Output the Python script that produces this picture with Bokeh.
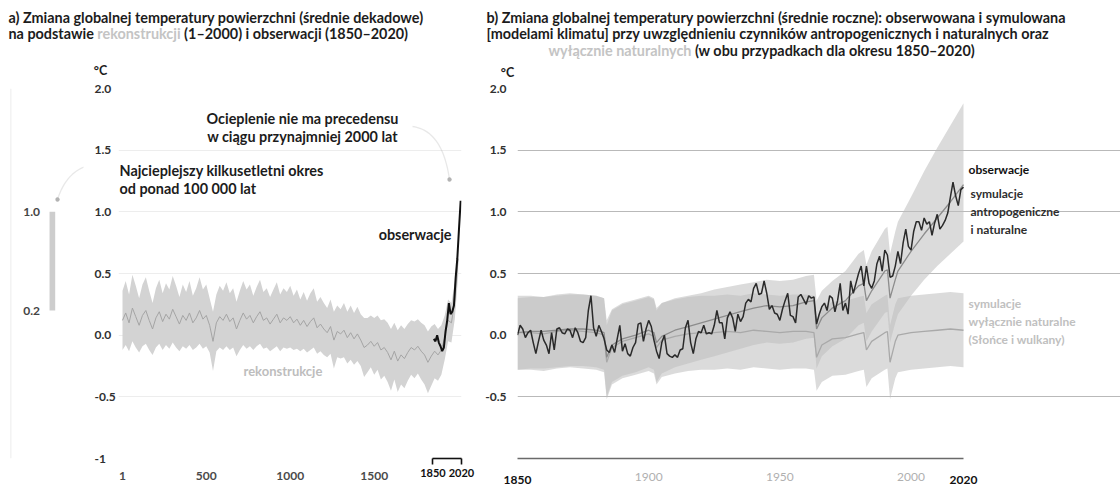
import subprocess
import numpy as np
from bokeh.plotting import figure
from bokeh.layouts import row, column
from bokeh.models import Range1d, FixedTicker, Label, PolyAnnotation, LinearAxis, Grid
from bokeh.embed import file_html
from bokeh.resources import INLINE

FONT = "Lato"

# ---------------- panel a data ----------------
recon_years = [1] + list(range(20, 2001, 20))
recon_mean = [
    0.12, 0.18, 0.10, 0.22, 0.15, 0.08, 0.16, 0.20, 0.12, 0.05,
    0.14, 0.19, 0.11, 0.17, 0.13, 0.21, 0.15, 0.09, 0.16, 0.12,
    0.18, 0.10, 0.14, 0.20, 0.13, 0.16, 0.08, -0.05, 0.10, 0.15,
    0.12, 0.17, 0.11, 0.14, 0.05, 0.12, 0.18, 0.13, 0.16, 0.10,
    0.15, 0.19, 0.12, 0.14, 0.09, 0.13, 0.17, 0.10, 0.14, 0.12,
    0.15, 0.10, 0.13, 0.08, 0.12, 0.07, 0.11, 0.14, 0.06, 0.09,
    0.05, 0.02, 0.07, -0.04, 0.03, 0.01, 0.04, -0.02, 0.02, -0.03,
    0.01, -0.04, -0.10, -0.08, -0.05, -0.09, -0.06, -0.12, -0.10, -0.14,
    -0.20, -0.13, -0.21, -0.16, -0.19, -0.14, -0.10, -0.12, -0.09, -0.13,
    -0.16, -0.22, -0.17, -0.13, -0.16, -0.12, -0.02, 0.12, 0.10, 0.28,
    0.62]
recon_spread = [
    0.24, 0.26, 0.23, 0.27, 0.25, 0.22, 0.25, 0.27, 0.24, 0.21,
    0.24, 0.26, 0.23, 0.25, 0.24, 0.27, 0.25, 0.22, 0.25, 0.23,
    0.26, 0.22, 0.24, 0.27, 0.24, 0.25, 0.22, 0.24, 0.23, 0.25,
    0.24, 0.26, 0.23, 0.24, 0.22, 0.24, 0.26, 0.24, 0.25, 0.22,
    0.24, 0.26, 0.23, 0.24, 0.22, 0.24, 0.26, 0.23, 0.24, 0.23,
    0.25, 0.22, 0.24, 0.21, 0.23, 0.21, 0.23, 0.24, 0.21, 0.22,
    0.21, 0.20, 0.22, 0.23, 0.21, 0.20, 0.22, 0.21, 0.22, 0.21,
    0.22, 0.21, 0.24, 0.22, 0.21, 0.23, 0.22, 0.24, 0.23, 0.24,
    0.25, 0.23, 0.25, 0.24, 0.24, 0.23, 0.22, 0.23, 0.22, 0.23,
    0.24, 0.25, 0.24, 0.22, 0.21, 0.20, 0.18, 0.17, 0.16, 0.15,
    0.14]
obs_dec_years = list(range(1855, 2016, 10))
obs_dec = [-0.03, -0.05, 0.00, -0.06, -0.09, -0.13, -0.10, 0.03, 0.12,
           0.26, 0.17, 0.19, 0.24, 0.46, 0.62, 0.86, 1.09]
a_yticks = [-1, -0.5, 0, 0.5, 1, 1.5, 2]
a_ylabels = ["-1", "-0.5", "0.0", "0.5", "1.0", "1.5", "2.0"]
a_xticks = [1, 500, 1000, 1500]
a_period = [1850, 2020]
bar_range = [0.2, 1.0]
bar_labels = ["0.2", "1.0"]

# ---------------- panel b data ----------------
obs_years = list(range(1850, 2021))
obs_annual = [
    0.00, 0.08, 0.05, -0.02, 0.02, 0.04, -0.06, -0.15, -0.05, 0.04,
    -0.04, -0.08, -0.15, 0.02, -0.12, 0.05, 0.06, 0.02, 0.01, 0.05,
    0.04, -0.02, 0.06, 0.02, -0.05, -0.06, -0.02, 0.20, 0.32, 0.06,
    -0.01, 0.08, 0.03, -0.03, -0.12, -0.14, -0.08, -0.14, -0.03, 0.08,
    -0.13, -0.07, -0.15, -0.17, -0.10, -0.06, 0.09, 0.10, -0.05, 0.05,
    0.12, 0.07, -0.04, -0.13, -0.19, -0.06, 0.00, -0.15, -0.17, -0.18,
    -0.16, -0.18, -0.12, -0.11, 0.06, 0.12, -0.06, -0.15, -0.03, 0.03,
    0.02, 0.08, 0.01, 0.02, 0.01, 0.08, 0.20, 0.10, 0.10, -0.03,
    0.14, 0.19, 0.14, 0.03, 0.17, 0.11, 0.15, 0.26, 0.29, 0.27,
    0.38, 0.42, 0.33, 0.34, 0.44, 0.34, 0.21, 0.24, 0.18, 0.17,
    0.12, 0.21, 0.28, 0.34, 0.16, 0.15, 0.10, 0.31, 0.33, 0.29,
    0.25, 0.32, 0.30, 0.31, 0.09, 0.17, 0.23, 0.26, 0.20, 0.32,
    0.30, 0.19, 0.28, 0.42, 0.20, 0.26, 0.17, 0.44, 0.34, 0.42,
    0.50, 0.56, 0.40, 0.56, 0.42, 0.38, 0.44, 0.58, 0.64, 0.52,
    0.69, 0.65, 0.47, 0.48, 0.56, 0.68, 0.58, 0.75, 0.86, 0.72,
    0.69, 0.84, 0.92, 0.92, 0.85, 0.95, 0.90, 0.92, 0.81, 0.91,
    0.98, 0.86, 0.89, 0.93, 0.99, 1.12, 1.24, 1.13, 1.05, 1.18,
    1.20]
sim_years = [1850, 1855, 1860, 1865, 1870, 1875, 1880, 1883, 1884, 1886,
             1890, 1895, 1900, 1902, 1903, 1905, 1910, 1915, 1920, 1925,
             1930, 1935, 1940, 1945, 1950, 1955, 1960, 1963, 1964, 1966,
             1970, 1975, 1980, 1982, 1983, 1985, 1990, 1991, 1992, 1994,
             1995, 2000, 2005, 2010, 2015, 2020]
hn_mean = [0.02, 0.03, 0.03, 0.04, 0.05, 0.05, 0.04, 0.02, -0.18, -0.08,
           -0.03, 0.00, 0.04, 0.02, -0.06, -0.01, 0.04, 0.07, 0.10, 0.13,
           0.16, 0.19, 0.22, 0.24, 0.23, 0.24, 0.27, 0.28, 0.05, 0.14,
           0.22, 0.28, 0.40, 0.42, 0.28, 0.36, 0.52, 0.53, 0.30, 0.45,
           0.52, 0.68, 0.82, 0.95, 1.08, 1.22]
hn_lo = [-0.28, -0.27, -0.27, -0.26, -0.25, -0.25, -0.26, -0.28, -0.50, -0.38,
         -0.33, -0.30, -0.26, -0.28, -0.38, -0.31, -0.26, -0.23, -0.20, -0.17,
         -0.14, -0.11, -0.08, -0.06, -0.07, -0.06, -0.03, -0.02, -0.27, -0.17,
         -0.09, -0.03, 0.08, 0.10, -0.05, 0.03, 0.18, 0.19, -0.06, 0.10,
         0.17, 0.32, 0.45, 0.56, 0.66, 0.76]
hn_hi = [0.30, 0.31, 0.31, 0.32, 0.33, 0.33, 0.32, 0.30, 0.12, 0.21,
         0.26, 0.29, 0.32, 0.30, 0.22, 0.26, 0.30, 0.32, 0.34, 0.37,
         0.39, 0.41, 0.43, 0.45, 0.44, 0.45, 0.48, 0.49, 0.28, 0.36,
         0.44, 0.52, 0.66, 0.69, 0.57, 0.68, 0.86, 0.88, 0.66, 0.84,
         0.92, 1.12, 1.33, 1.52, 1.70, 1.88]
nat_mean = [0.02, 0.02, 0.01, 0.03, 0.04, 0.03, 0.02, 0.00, -0.22, -0.10,
            -0.05, -0.02, 0.01, -0.01, -0.10, -0.04, -0.01, 0.01, 0.02, 0.02,
            0.03, 0.02, 0.04, 0.03, 0.02, 0.03, 0.03, 0.02, -0.18, -0.08,
            -0.03, -0.02, 0.01, 0.02, -0.12, -0.05, 0.02, 0.03, -0.22, -0.05,
            0.00, 0.02, 0.03, 0.04, 0.05, 0.04]
nat_lo = [-0.28, -0.28, -0.29, -0.27, -0.26, -0.27, -0.28, -0.30, -0.52, -0.40,
          -0.35, -0.32, -0.29, -0.31, -0.40, -0.34, -0.31, -0.29, -0.28, -0.28,
          -0.27, -0.28, -0.26, -0.27, -0.28, -0.27, -0.27, -0.28, -0.45, -0.38,
          -0.33, -0.32, -0.29, -0.28, -0.42, -0.35, -0.28, -0.27, -0.52, -0.35,
          -0.30, -0.28, -0.27, -0.26, -0.25, -0.26]
nat_hi = [0.32, 0.32, 0.31, 0.33, 0.34, 0.33, 0.32, 0.30, 0.08, 0.20,
          0.25, 0.28, 0.31, 0.29, 0.20, 0.26, 0.29, 0.31, 0.32, 0.32,
          0.33, 0.32, 0.34, 0.33, 0.32, 0.33, 0.33, 0.32, 0.12, 0.22,
          0.27, 0.28, 0.31, 0.32, 0.18, 0.25, 0.32, 0.33, 0.08, 0.25,
          0.30, 0.32, 0.33, 0.34, 0.35, 0.34]
b_yticks = [-0.5, 0, 0.5, 1, 1.5, 2]
b_ylabels = ["-0.5", "0.0", "0.5", "1.0", "1.5", "2.0"]
b_grid = [-0.5, 0.5, 1, 1.5]
b_xticks = [1900, 1950, 2000]
b_period = [1850, 2020]

# ---------------- layout (page pixels; the page has no margin) ----------------
TOP_H = 81                     # title strip: page y 0..81
ROW_H = 405                    # panels: page y 81..486
MB_TOP, MB_BOT = 7, 26         # frame page y 88..460
FB = TOP_H + ROW_H - MB_BOT    # frame bottom, page y
L_W, L_RB = 118, 30            # left strip page x 0..118, frame 0..88
A_W, A_RB = 362, 19            # panel a page x 118..480, frame 118..461
B_W, B_LB = 640, 37            # panel b page x 480..1120, frame 517..1120
A_F0, A_F1, A_Y1 = 118, 461, 122
B_F0, B_F1, B_Y2020 = 517, 1120, 963

TXT = "#1c1c1c"
FADE = "#c4c4c4"
BIG = 14.4

_fonts = {}


def text_width(s, size, bold=True):
    try:
        from PIL import ImageFont
        key = (size, bold)
        if key not in _fonts:
            pat = "Lato:bold" if bold else "Lato"
            path = subprocess.run(["fc-match", "-f", "%{file}", pat],
                                  capture_output=True, text=True).stdout.strip()
            _fonts[key] = ImageFont.truetype(path, size)
        return _fonts[key].getlength(s)
    except Exception:
        return 0.5 * size * len(s)


def put(p, fx0, fb, X, Y, s, size=BIG, color=TXT, style="bold", align="left"):
    p.add_layout(Label(x=X - fx0, y=fb - Y, x_units="screen", y_units="screen",
                       text=s, text_font=FONT, text_font_size=f"{size}px",
                       text_color=color, text_font_style=style,
                       text_align=align, text_baseline="middle"))


def put_runs(p, fx0, fb, X, Y, runs, size=BIG):
    x = X
    for s, color in runs:
        put(p, fx0, fb, x, Y, s, size=size, color=color)
        x += text_width(s + " ", size)


def dot(p, fx0, fb, P, color, r=2.2):
    a = np.linspace(0, 2 * np.pi, 10)[:-1]
    p.add_layout(PolyAnnotation(xs=list(P[0] - fx0 + r * np.cos(a)),
                                ys=list(fb - P[1] + r * np.sin(a)),
                                xs_units="screen", ys_units="screen",
                                fill_color=color, fill_alpha=1, line_color=None))


def curve(p, fx0, fb, P0, C, P1, color="#b3b3b3"):
    t = np.linspace(0, 1, 24)
    X = (1 - t) ** 2 * P0[0] + 2 * (1 - t) * t * C[0] + t ** 2 * P1[0]
    Y = (1 - t) ** 2 * P0[1] + 2 * (1 - t) * t * C[1] + t ** 2 * P1[1]
    xs = list(X - fx0)
    ys = list(fb - Y)
    xs = xs + xs[::-1][1:-1]
    ys = ys + ys[::-1][1:-1]
    p.add_layout(PolyAnnotation(xs=xs, ys=ys, xs_units="screen", ys_units="screen",
                                fill_alpha=0, line_color=color, line_width=1.3))
    dot(p, fx0, fb, P1, color)


def axis_style(ax, color="#303030", style="bold", size="12px"):
    ax.axis_line_color = None
    ax.major_tick_line_color = None
    ax.minor_tick_line_color = None
    ax.major_label_text_font = FONT
    ax.major_label_text_font_size = size
    ax.major_label_text_font_style = style
    ax.major_label_text_color = color


def base(width, height, xr, yr, **kw):
    p = figure(width=width, height=height, x_range=xr, y_range=yr,
               x_axis_type=None, y_axis_type=None, title=None,
               output_backend="svg", toolbar_location=None, **kw)
    p.outline_line_color = None
    p.border_fill_color = "white"
    p.background_fill_color = "white"
    return p


yr = Range1d(-1, 2)

# ================= title strip =================
pt = base(1120, TOP_H, Range1d(0, 1120), Range1d(0, TOP_H),
          min_border_left=0, min_border_right=0, min_border_top=0, min_border_bottom=0)
put(pt, 0, TOP_H, 8, 17, "a) Zmiana globalnej temperatury powierzchni (średnie dekadowe)")
put_runs(pt, 0, TOP_H, 8, 33, [("na podstawie", TXT), ("rekonstrukcji", FADE),
                               ("(1–2000) i obserwacji (1850–2020)", TXT)])
put(pt, 0, TOP_H, 486, 17, "b) Zmiana globalnej temperatury powierzchni (średnie roczne): obserwowana i symulowana")
put(pt, 0, TOP_H, 486, 33, "[modelami klimatu] przy uwzględnieniu czynników antropogenicznych i naturalnych oraz")
put_runs(pt, 0, TOP_H, 548, 50, [("wyłącznie naturalnych", FADE),
                                 ("(w obu przypadkach dla okresu 1850–2020)", TXT)])
put(pt, 0, TOP_H, 100, 70, "°C", size=12.5, align="center")
put(pt, 0, TOP_H, 507, 72, "°C", size=12.5, align="center")

# ================= left strip (warmest period bar + panel a value axis) =================
pl = base(L_W, ROW_H, Range1d(0, L_W - L_RB), yr,
          min_border_left=0, min_border_right=L_RB, min_border_top=MB_TOP,
          min_border_bottom=MB_BOT)
ya = LinearAxis(ticker=FixedTicker(ticks=a_yticks),
                major_label_overrides=dict(zip(a_yticks, a_ylabels)))
axis_style(ya)
ya.major_label_standoff = 5
pl.add_layout(ya, "right")
pl.quad(left=[52], right=[58], bottom=[bar_range[0]], top=[bar_range[1]],
        fill_color="#cdcdcd", line_color=None)
pl.text(x=[33, 33], y=bar_range, text=bar_labels, text_font={"value": FONT},
        text_font_size="12px", text_font_style="bold", text_color="#444444",
        text_align="center", text_baseline="middle")
pl.segment(x0=[11], y0=[-1], x1=[11], y1=[2], line_color="#ececec", line_width=1)
curve(pl, 0, FB, (112, 166), (70, 160), (57, 201))

# ================= panel a =================
ka = (A_F1 - A_Y1) / (2020 - 1)
pa = base(A_W, ROW_H, Range1d(1 - (A_Y1 - A_F0) / ka, 2020), yr,
          min_border_left=0, min_border_right=A_RB, min_border_top=MB_TOP,
          min_border_bottom=MB_BOT)
pa.add_layout(Grid(dimension=1, ticker=FixedTicker(ticks=a_yticks),
                   grid_line_color="#ededed", bounds=(1, 2020)))
rm = np.array(recon_mean)
rs = np.array(recon_spread)
pa.varea(x=recon_years, y1=rm - rs, y2=rm + rs, fill_color="#d3d3d3")
pa.line(recon_years, recon_mean, line_color="#a4a4a4", line_width=1)
pa.line(obs_dec_years, obs_dec, line_color="#111111", line_width=2)

xb = LinearAxis(ticker=FixedTicker(ticks=a_period), bounds=tuple(a_period))
axis_style(xb, color="#111111", size="11px")
xb.axis_line_color = "#111111"
xb.axis_line_width = 1.6
xb.major_tick_line_color = "#111111"
xb.major_tick_line_width = 1.6
xb.major_tick_in = 0
xb.major_tick_out = 6
xb.major_label_standoff = 4
pa.add_layout(xb, "below")
xa = LinearAxis(ticker=FixedTicker(ticks=a_xticks))
axis_style(xa, color="#4a4a4a")
xa.major_label_standoff = -14
pa.add_layout(xa, "below")

put(pa, A_F0, FB, 302, 120, "Ocieplenie nie ma precedensu", align="center")
put(pa, A_F0, FB, 302, 138, "w ciągu przynajmniej 2000 lat", align="center")
put(pa, A_F0, FB, 119, 172, "Najcieplejszy kilkusetletni okres")
put(pa, A_F0, FB, 119, 190, "od ponad 100 000 lat")
put(pa, A_F0, FB, 451, 236, "obserwacje", align="right")
put(pa, A_F0, FB, 243, 372, "rekonstrukcje", size=13, color="#bdbdbd")
curve(pa, A_F0, FB, (412, 128), (442, 132), (449, 181))

# ================= panel b =================
kb = (B_Y2020 - B_F0) / (2020 - 1850)
pb = base(B_W, ROW_H, Range1d(1850, 2020 + (B_F1 - B_Y2020) / kb), yr,
          min_border_left=B_LB, min_border_right=0, min_border_top=MB_TOP,
          min_border_bottom=MB_BOT)
pb.add_layout(Grid(dimension=1, ticker=FixedTicker(ticks=b_grid),
                   grid_line_color="#b9b9b9", grid_line_width=1.2, bounds=tuple(b_period)))
yb = LinearAxis(ticker=FixedTicker(ticks=b_yticks),
                major_label_overrides=dict(zip(b_yticks, b_ylabels)))
axis_style(yb)
yb.major_label_standoff = 5
pb.add_layout(yb, "left")

xg = LinearAxis(ticker=FixedTicker(ticks=b_xticks), bounds=tuple(b_period))
axis_style(xg, color="#b0b0b0", style="normal")
xg.axis_line_color = "#6a6a6a"
xg.axis_line_width = 1.5
xg.major_label_standoff = 8
pb.add_layout(xg, "below")
xk = LinearAxis(ticker=FixedTicker(ticks=b_period))
axis_style(xk, color="#111111")
xk.major_label_standoff = -14
pb.add_layout(xk, "below")

pb.varea(x=sim_years, y1=nat_lo, y2=nat_hi, fill_color="#bdbdbd", fill_alpha=0.55)
pb.varea(x=sim_years, y1=hn_lo, y2=hn_hi, fill_color="#bdbdbd", fill_alpha=0.55)
pb.line(sim_years, nat_mean, line_color="#a9a9a9", line_width=1.3)
pb.line(sim_years, hn_mean, line_color="#8c8c8c", line_width=1.3)
pb.line(obs_years, obs_annual, line_color="#2a2a2a", line_width=1.5)

put(pb, B_F0, FB, 968, 171, "obserwacje", size=12, color="#111111")
put(pb, B_F0, FB, 970, 195, "symulacje", size=12, color="#2e2e2e")
put(pb, B_F0, FB, 970, 213, "antropogeniczne", size=12, color="#2e2e2e")
put(pb, B_F0, FB, 970, 231, "i naturalne", size=12, color="#2e2e2e")
put(pb, B_F0, FB, 968, 305, "symulacje", size=12, color="#c0c0c0")
put(pb, B_F0, FB, 968, 323, "wyłącznie naturalne", size=12, color="#c0c0c0")
put(pb, B_F0, FB, 968, 341, "(Słońce i wulkany)", size=12, color="#c0c0c0")

layout = column(pt, row(pl, pa, pb))
open("out.html", "w").write(file_html(layout, INLINE))
